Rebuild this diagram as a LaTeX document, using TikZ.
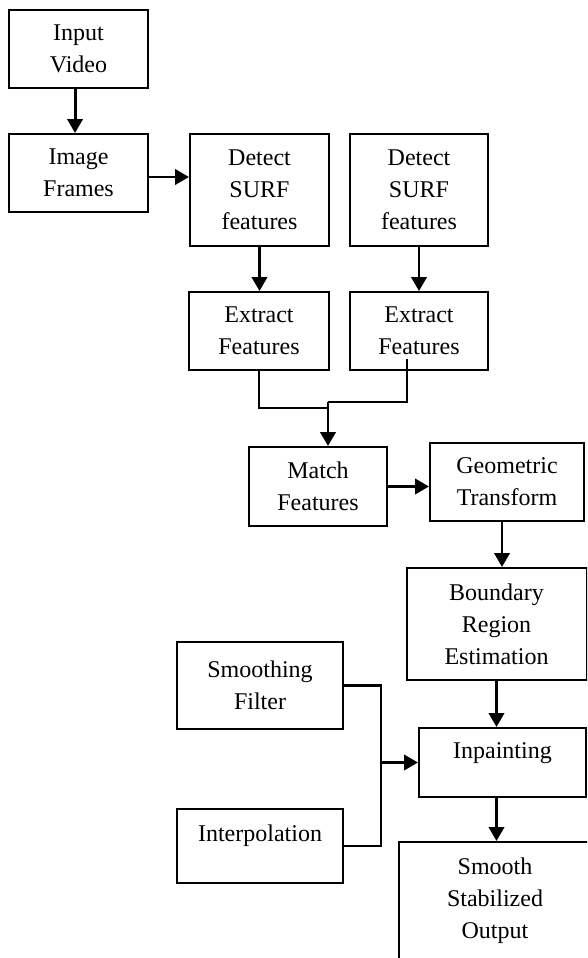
\documentclass[tikz,border=0pt]{standalone}
\usepackage{fontspec}
\setmainfont{Liberation Serif}
\usetikzlibrary{arrows.meta,calc}
\begin{document}
\begin{tikzpicture}[x=0.75pt,y=-0.75pt,
  box/.style={draw, line width=1.5pt, align=center, inner sep=0pt,
    font=\fontsize{18}{24}\selectfont},
  sz/.style 2 args={minimum width=#1*0.75pt, minimum height=#2*0.75pt},
  conn/.style={line width=2.2pt},
  arr/.style={line width=2.2pt, -{Triangle[length=10.5pt,width=11.5pt]}}]
\useasboundingbox (0,0) rectangle (587,958);
\fill[white] (0,0) rectangle (587,958);
\clip (0,0) rectangle (587,958);

\node[box, sz={139}{78}] (input) at (78.5,49) {Input\\Video};
\node[box, sz={139}{78}] (frames) at (78.5,173) {Image\\Frames};
\node[box, sz={139}{112}] (det1) at (259.5,190) {Detect\\SURF\\features};
\node[box, sz={138}{112}] (det2) at (419,190) {Detect\\SURF\\features};
\node[box, sz={140}{78}] (ext1) at (259,331) {Extract\\Features};
\node[box, sz={138}{78}] (ext2) at (419,331) {Extract\\Features};
\node[box, sz={138}{79}] (match) at (318,486.5) {Match\\Features};
\node[box, sz={154}{78}] (geo) at (507,482) {Geometric\\Transform};
\node[box, sz={180}{112}] (bound) at (496.5,624) {Boundary\\Region\\Estimation};
\node[box, sz={166}{87}] (smooth) at (260,685.5) {Smoothing\\Filter};
\node[box, sz={166}{74}] (interp) at (260,846) {\raisebox{0pt}[\height][\dimexpr\depth+15pt\relax]{Interpolation}};
\node[box, sz={167}{69}] (inpaint) at (502.5,762.5) {\raisebox{0pt}[\height][\dimexpr\depth+14pt\relax]{Inpainting}};
\node[box, sz={192}{118}] (output) at (495,901) {Smooth\\Stabilized\\Output};

% connectors
\coordinate (i1) at ([xshift=-2.6pt]input.south);
\draw[arr] (i1) -- (i1 |- frames.north);
\coordinate (f1) at ([yshift=-3pt]frames.east);
\draw[arr] (f1) -- (f1 -| det1.west);
\draw[arr] (det1.south) -- (det1.south |- ext1.north);
\draw[arr] (det2.south) -- (det2.south |- ext2.north);

\coordinate (m1) at ([xshift=7.5pt]match.north);
\coordinate (e2) at ([xshift=-9pt,yshift=9pt]ext2.south);
\draw[conn] (ext1.south) |- ($(m1)+(0,-38)$);
\draw[conn] (e2) |- ($(m1)+(0,-44)$);
\draw[arr] ($(m1)+(0,-44)$) -- (m1);

\draw[arr] (match.east) -- (match.east -| geo.west);
\coordinate (g1) at ([xshift=-3.75pt]geo.south);
\draw[arr] (g1) -- (g1 |- bound.north);
\draw[arr] (bound.south) -- (bound.south |- inpaint.north);
\draw[arr] (bound.south |- inpaint.south) -- (bound.south |- output.north);

\coordinate (j2) at ($(inpaint.west)+(-37,0)$);
\draw[conn] (smooth.east) -| (j2) |- (interp.east);
\draw[arr] (j2) -- (inpaint.west);
\end{tikzpicture}
\end{document}
